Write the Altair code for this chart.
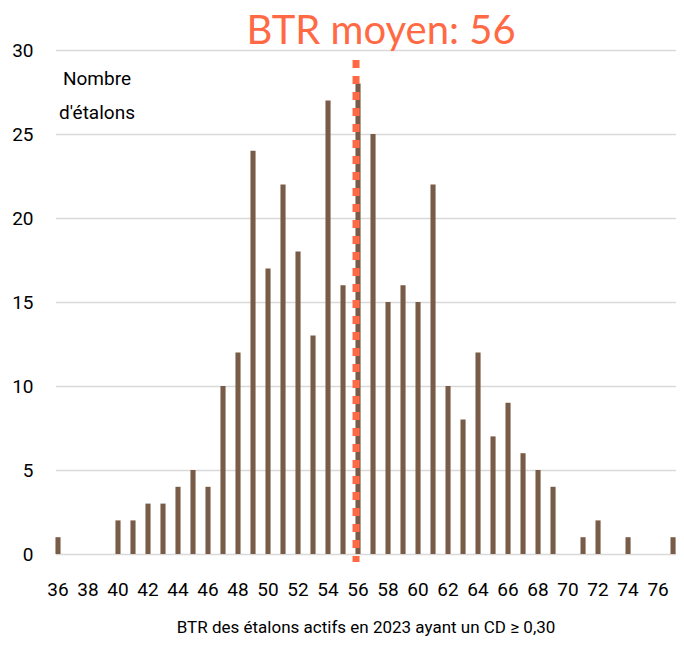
import altair as alt
import pandas as pd

btr = list(range(36, 78))
counts = [1, 0, 0, 0, 2, 2, 3, 3, 4, 5, 4, 10, 12, 24, 17, 22, 18, 13, 27, 16, 28,
          25, 15, 16, 15, 22, 10, 8, 12, 7, 9, 6, 5, 4, 0, 1, 2, 0, 1, 0, 0, 1]
tick_labels = list(range(36, 77, 2))
y_ticks = [0, 5, 10, 15, 20, 25, 30]
mean_btr = 56
rule_top = 29.4
rule_bottom = -0.48
title_text = "BTR moyen: 56"
x_title = "BTR des étalons actifs en 2023 ayant un CD ≥ 0,30"
y_label = ["Nombre", "d'étalons"]
label_pos = (39, 28.26)

df = pd.DataFrame({"btr": btr, "n": counts})

BROWN = "#785c47"
ORANGE = "#ff6a45"
FONT = "Roboto"

x_enc = alt.X(
    "btr:O",
    scale=alt.Scale(type="band", domain=btr, range=[5.45, 625.6], paddingInner=0.66, paddingOuter=0),
    axis=alt.Axis(
        values=tick_labels, labelAngle=0, ticks=False, domain=False,
        labelFont=FONT, labelFontSize=19, labelColor="#000000", labelPadding=26,
        title=x_title, titleFont=FONT, titleFontSize=17, titleFontWeight="normal",
        titleColor="#000000", titlePadding=20, grid=False,
    ),
)

bars = alt.Chart(df).mark_bar(color=BROWN).encode(
    x=x_enc,
    y=alt.Y(
        "n:Q",
        scale=alt.Scale(domain=[0, 30]),
        axis=alt.Axis(
            values=y_ticks, ticks=False, domain=False, grid=True,
            gridColor="#d9d9d9", gridWidth=1.3,
            labelFont=FONT, labelFontSize=19, labelColor="#000000",
            labelPadding=17, title=None,
        ),
    ),
)

rule = alt.Chart(pd.DataFrame({"btr": [mean_btr], "top": [rule_top], "bot": [rule_bottom]})).mark_rule(
    color=ORANGE, strokeWidth=7, strokeDash=[8, 8], strokeCap="butt", xOffset=-2
).encode(
    x="btr:O",
    y="top:Q",
    y2="bot:Q",
)

label = alt.Chart(pd.DataFrame({"btr": [label_pos[0]], "n": [label_pos[1]], "t": [y_label]})).mark_text(
    font=FONT, fontSize=19, color="#000000", lineHeight=34, baseline="middle", align="center", dx=-6
).encode(
    x="btr:O",
    y="n:Q",
    text="t",
)

chart = alt.layer(bars, rule, label).properties(
    width=626,
    height=504,
    autosize=alt.AutoSizeParams(type="none"),
    padding={"left": 42, "top": 42, "right": 0, "bottom": 82},
    title=alt.TitleParams(
        title_text, font="Lato", fontSize=40, fontWeight="normal", color=ORANGE,
        anchor="middle", dx=18, offset=-11,
    ),
).configure_view(stroke=None)

chart.save("out.html", embed_options={"renderer": "svg", "actions": False})
